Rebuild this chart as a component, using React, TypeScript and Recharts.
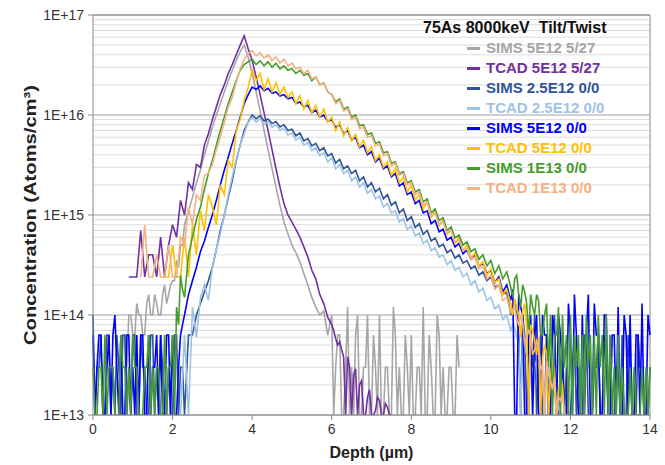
import React from 'react'
import { LineChart, Line, XAxis, YAxis, CartesianGrid, ReferenceLine } from 'recharts'

// depth grid (µm), 0.1 µm step
const depth = [
  0, 0.1, 0.2, 0.3, 0.4, 0.5, 0.6, 0.7, 0.8, 0.9,
  1, 1.1, 1.2, 1.3, 1.4, 1.5, 1.6, 1.7, 1.8, 1.9,
  2, 2.1, 2.2, 2.3, 2.4, 2.5, 2.6, 2.7, 2.8, 2.9,
  3, 3.1, 3.2, 3.3, 3.4, 3.5, 3.6, 3.7, 3.8, 3.9,
  4, 4.1, 4.2, 4.3, 4.4, 4.5, 4.6, 4.7, 4.8, 4.9,
  5, 5.1, 5.2, 5.3, 5.4, 5.5, 5.6, 5.7, 5.8, 5.9,
  6, 6.1, 6.2, 6.3, 6.4, 6.5, 6.6, 6.7, 6.8, 6.9,
  7, 7.1, 7.2, 7.3, 7.4, 7.5, 7.6, 7.7, 7.8, 7.9,
  8, 8.1, 8.2, 8.3, 8.4, 8.5, 8.6, 8.7, 8.8, 8.9,
  9, 9.1, 9.2, 9.3, 9.4, 9.5, 9.6, 9.7, 9.8, 9.9,
  10, 10.1, 10.2, 10.3, 10.4, 10.5, 10.6, 10.7, 10.8, 10.9,
  11, 11.1, 11.2, 11.3, 11.4, 11.5, 11.6, 11.7, 11.8, 11.9,
  12, 12.1, 12.2, 12.3, 12.4, 12.5, 12.6, 12.7, 12.8, 12.9,
  13, 13.1, 13.2, 13.3, 13.4, 13.5, 13.6, 13.7, 13.8, 13.9, 14,
]

// extra in-between depths where the SIMS noise floor is dense
const depthFine = [
  0.05, 0.15, 0.25, 0.35, 0.45, 0.55, 0.65, 0.75, 0.85, 0.95,
  1.05, 1.15, 1.25, 1.35, 1.45, 1.55, 1.65, 1.75, 1.85, 1.95,
  2.05, 2.15, 2.25,
  6.05, 6.15, 6.25, 6.35, 6.45, 6.55, 6.65, 6.75, 6.85, 6.95,
  7.05, 7.15, 7.25, 7.35, 7.45, 7.55, 7.65, 7.75, 7.85, 7.95,
  8.05, 8.15, 8.25, 8.35, 8.45, 8.55, 8.65, 8.75, 8.85, 8.95,
  9.05, 9.15,
  10.55, 10.65, 10.75, 10.85, 10.95,
  11.05, 11.15, 11.25, 11.35, 11.45, 11.55, 11.65, 11.75, 11.85, 11.95,
  12.05, 12.15, 12.25, 12.35, 12.45, 12.55, 12.65, 12.75, 12.85, 12.95,
  13.05, 13.15, 13.25, 13.35, 13.45, 13.55, 13.65, 13.75, 13.85, 13.95,
]

const N = null

// SIMS 5E12 5/27
const sims5e12Tilt = [
  N, N, N, N, N, N, N, N, 6.3e13, 1e14,
  6.3e13, 1.3e14, 1e14, 6.3e13, 1.6e14, 1e14, 1.3e14, 1e14, 2e14, 1.6e14,
  2.2e14, 3.5e14, 5e14, 8e14, 1.1e15, 1.5e15, 2.1e15, 2.8e15, 4e15, 5.5e15,
  7.5e15, 1e16, 1.3e16, 1.7e16, 2.2e16, 2.8e16, 3.5e16, 4.3e16, 5e16, 3.8e16,
  2.6e16, 1.7e16, 1.1e16, 7e15, 4.5e15, 2.9e15, 1.9e15, 1.25e15, 8.5e14, 6.5e14,
  5e14, 4.2e14, 3.4e14, 2.6e14, 2e14, 1.5e14, 1.2e14, 1e14, 1.1e14, 6.3e13,
  1e14, 3e13, 6.3e13, 1e13, 1.2e14, 3e13, 6.3e13, 1e13, 3e13, 1e14,
  1e13, 3e13, 1e14, 1e13, 3e13, 1e13, 6.3e13, 3e13, 1e13, 3e13,
  6.3e13, 1e13, 3e13, 1.2e14, 1e13, 3e13, 1e13, 6.3e13, 3e13, 1e13,
  3e13, 1e13, 3e13, N, N, N, N, N, N, N,
  N, N, N, N, N, N, N, N, N, N,
  N, N, N, N, N, N, N, N, N, N,
  N, N, N, N, N, N, N, N, N, N,
  N, N, N, N, N, N, N, N, N, N, N,
]
const sims5e12TiltFine = [
  N, N, N, N, N, N, N, N, 3e13, 1e14,
  6.3e13, 1e14, 6.3e13, 1.3e14, 1e14, 1.6e14, 1e14, 1.6e14, 1.3e14, 2e14,
  2.2e14, 3e14, 5e14,
  1e13, 6.3e13, 1e13, 3e13, 1e13, 1e13, 1e14, 1e13, 3e13, 1e13,
  6.3e13, 1e13, 1e13, 3e13, 1e13, 1.2e14, 1e13, 1e13, 6.3e13, 1e13,
  1e13, 3e13, 1e13, 1e13, 6.3e13, 1e13, 1e14, 1e13, 1e13, 3e13,
  1e13, 6.3e13,
  N, N, N, N, N,
  N, N, N, N, N, N, N, N, N, N,
  N, N, N, N, N, N, N, N, N, N,
  N, N, N, N, N, N, N, N, N, N,
]

// TCAD 5E12 5/27
const tcad5e12Tilt = [
  N, N, N, N, N, N, N, N, N, 2.4e14,
  2.4e14, 2.4e14, 7e14, 2.4e14, 4e14, 4e14, 2.4e14, 6e14, 2.4e14, 5e14,
  8e14, 6e14, 1.4e15, 1e15, 2.1e15, 1.8e15, 3.2e15, 3e15, 5e15, 6.5e15,
  9e15, 1.2e16, 1.6e16, 2e16, 2.6e16, 3.2e16, 4e16, 5e16, 6.2e16, 4.6e16,
  3.5e16, 2.4e16, 1.6e16, 1.05e16, 7e15, 4.5e15, 2.9e15, 1.9e15, 1.3e15, 1e15,
  8.5e14, 7.2e14, 6e14, 4.8e14, 3.8e14, 2.8e14, 2.3e14, 1.6e14, 1.3e14, 9.5e13,
  8e13, 5.8e13, 5.4e13, 3.8e13, 3.8e13, 1e13, 2.9e13, 2e13, 1e13, 1.5e13,
  1e13, 1.1e13, 1.4e13, 1e13, 1.2e13, 1e13, N, N, N, N,
  N, N, N, N, N, N, N, N, N, N,
  N, N, N, N, N, N, N, N, N, N,
  N, N, N, N, N, N, N, N, N, N,
  N, N, N, N, N, N, N, N, N, N,
  N, N, N, N, N, N, N, N, N, N,
  N, N, N, N, N, N, N, N, N, N, N,
]
const tcad5e12TiltFine = [
  N, N, N, N, N, N, N, N, N, N,
  N, N, N, N, N, N, N, N, N, N,
  N, N, N,
  7e13, 5e13, 4.5e13, 1e13, 3e13, 2.5e13, 1e13, 2.2e13, 1e13, 1.8e13,
  1e13, 1.5e13, 1e13, 1.3e13, 1e13, N, N, N, N, N,
  N, N, N, N, N, N, N, N, N, N,
  N, N,
  N, N, N, N, N,
  N, N, N, N, N, N, N, N, N, N,
  N, N, N, N, N, N, N, N, N, N,
  N, N, N, N, N, N, N, N, N, N,
]

// SIMS 2.5E12 0/0
const sims25e12 = [
  1e14, 3e13, 6.3e13, 1e13, 6.3e13, 3e13, 6.3e13, 1e13, 6.3e13, 3e13,
  6.3e13, 1e13, 6.3e13, 3e13, 1e13, 6.3e13, 3e13, 6.3e13, 1e13, 3e13,
  1e13, 6.3e13, 3e13, 1e13, 6.3e13, 6.3e13, 1e14, 1.3e14, 1.7e14, 2.2e14,
  3e14, 4.5e14, 7e14, 1e15, 1.5e15, 2.2e15, 3.5e15, 5e15, 7e15, 8.5e15,
  1e16, 9.2e15, 9.8e15, 8.7e15, 9.1e15, 8.2e15, 8.6e15, 7.6e15, 8e15, 7e15,
  7.2e15, 6.2e15, 6.6e15, 5.5e15, 5.8e15, 4.9e15, 5.2e15, 4.4e15, 4.7e15, 3.9e15,
  4.1e15, 3.3e15, 3.6e15, 2.9e15, 3.1e15, 2.6e15, 2.8e15, 2.2e15, 2.4e15, 1.9e15,
  2.1e15, 1.7e15, 1.85e15, 1.45e15, 1.6e15, 1.25e15, 1.35e15, 1.05e15, 1.15e15, 8.8e14,
  9.6e14, 7.5e14, 8.2e14, 6.4e14, 7e14, 5.5e14, 5.9e14, 4.8e14, 5.1e14, 4.2e14,
  4.5e14, 3.7e14, 4e14, 3.3e14, 3.5e14, 2.9e14, 3.1e14, 2.5e14, 2.7e14, 2.2e14,
  2.4e14, 1.9e14, 2e14, 1.6e14, 1.7e14, 1e14, 1.4e14, 6.3e13, 1e14, 1e13,
  6.3e13, 1e14, 3e13, 1e13, 6.3e13, 3e13, 1e14, 1e13, 6.3e13, 3e13,
  1e13, 6.3e13, 3e13, 1e13, 6.3e13, 1e13, 3e13, 6.3e13, 1e13, 3e13,
  6.3e13, 1e13, 3e13, 6.3e13, 1e13, 3e13, 1e13, 6.3e13, 3e13, 1e13, 3e13,
]
const sims25e12Fine = [
  1e13, 3e13, 1e13, 6.3e13, 1e13, 1e13, 3e13, 6.3e13, 1e13, 1e13,
  6.3e13, 1e13, 3e13, 1e13, 6.3e13, 1e13, 1e13, 3e13, 1e13, 1e13,
  6.3e13, 1e13, 3e13,
  N, N, N, N, N, N, N, N, N, N,
  N, N, N, N, N, N, N, N, N, N,
  N, N, N, N, N, N, N, N, N, N,
  N, N,
  1.2e14, 1e14, 1e13, 6.3e13, 1e13,
  3e13, 1e13, 6.3e13, 1e13, 1e13, 6.3e13, 1e13, 3e13, 1e13, 1e13,
  3e13, 1e13, 1e13, 6.3e13, 1e13, 1e13, 3e13, 1e13, 6.3e13, 1e13,
  1e13, 3e13, 1e13, 1e13, 6.3e13, 1e13, 1e13, 3e13, 1e13, 1e13,
]

// TCAD 2.5E12 0/0
const tcad25e12 = [
  N, N, N, N, N, N, N, N, N, N,
  N, N, N, N, N, N, N, N, N, N,
  N, N, 1e13, 6.3e13, 1e13, 1.2e14, 6e13, 1.5e14, 2e14, 1.4e14,
  3e14, 4.5e14, 6.5e14, 1e15, 1.6e15, 2.4e15, 3.6e15, 5e15, 6.5e15, 8.5e15,
  9.5e15, 8.5e15, 9.2e15, 8e15, 8.6e15, 7.5e15, 8e15, 7e15, 7.4e15, 6.3e15,
  6.6e15, 5.6e15, 6e15, 5e15, 5.3e15, 4.4e15, 4.7e15, 3.9e15, 4.2e15, 3.4e15,
  3.7e15, 2.9e15, 3.2e15, 2.6e15, 2.8e15, 2.2e15, 2.4e15, 1.9e15, 2.1e15, 1.65e15,
  1.8e15, 1.45e15, 1.55e15, 1.2e15, 1.3e15, 1.05e15, 1.1e15, 8.5e14, 9.2e14, 7.2e14,
  7.8e14, 6.2e14, 6.6e14, 5.2e14, 5.6e14, 4.4e14, 4.7e14, 3.8e14, 4e14, 3.2e14,
  3.5e14, 2.8e14, 3e14, 2.4e14, 2.6e14, 2e14, 2.2e14, 1.7e14, 1.85e14, 1.4e14,
  1.5e14, 1.15e14, 1.25e14, 9e13, 1e14, 7e13, 7.5e13, 5.3e13, 5.8e13, 4e13,
  4.3e13, 3e13, 3.2e13, 2.2e13, 2.4e13, 1.6e13, 1.7e13, 1.2e13, 1e13, N,
  N, N, N, N, N, N, N, N, N, N,
  N, N, N, N, N, N, N, N, N, N, N,
]
const tcad25e12Fine = [
  N, N, N, N, N, N, N, N, N, N,
  N, N, N, N, N, N, N, N, N, N,
  N, N, N,
  N, N, N, N, N, N, N, N, N, N,
  N, N, N, N, N, N, N, N, N, N,
  N, N, N, N, N, N, N, N, N, N,
  N, N,
  8e13, 6e13, 1e13, 5e13, 3.5e13,
  1e13, 3.5e13, 2.5e13, 1e13, 2e13, 1.5e13, 1e13, 1.1e13, N, N,
  N, N, N, N, N, N, N, N, N, N,
  N, N, N, N, N, N, N, N, N, N,
]

// SIMS 5E12 0/0
const sims5e12 = [
  6.3e13, 3e13, 6.3e13, 1e13, 6.3e13, 6.3e13, 3e13, 6.3e13, 1e13, 6.3e13,
  3e13, 6.3e13, 6.3e13, 1e13, 6.3e13, 3e13, 6.3e13, 6.3e13, 1e13, 6.3e13,
  6.3e13, 1e13, 6.3e13, 1e14, 1.6e14, 2.2e14, 3e14, 4.3e14, 5.5e14, 7.5e14,
  1e15, 1.4e15, 2e15, 2.8e15, 3.8e15, 5.2e15, 7e15, 9.5e15, 1.3e16, 1.6e16,
  1.9e16, 1.8e16, 1.95e16, 1.75e16, 1.85e16, 1.65e16, 1.7e16, 1.55e16, 1.6e16, 1.45e16,
  1.5e16, 1.3e16, 1.35e16, 1.2e16, 1.25e16, 1.05e16, 1.12e16, 9.5e15, 1e16, 8.6e15,
  9e15, 7.5e15, 8e15, 6.5e15, 7e15, 5.6e15, 6e15, 4.7e15, 5e15, 4e15,
  4.3e15, 3.4e15, 3.7e15, 2.9e15, 3.1e15, 2.4e15, 2.6e15, 1.95e15, 2.1e15, 1.6e15,
  1.7e15, 1.3e15, 1.4e15, 1.05e15, 1.1e15, 8.2e14, 8.8e14, 6.8e14, 7.2e14, 5.6e14,
  6e14, 4.8e14, 5.2e14, 4.1e14, 4.5e14, 3.6e14, 3.9e14, 3.1e14, 3.3e14, 2.6e14,
  2.8e14, 2.1e14, 2.4e14, 1.7e14, 2e14, 1.4e14, 1e13, 1.6e14, 1e14, 1e13,
  1e14, 6.3e13, 1e13, 1e14, 6.3e13, 1e13, 6.3e13, 1e14, 3e13, 1e13,
  6.3e13, 1.6e14, 1e13, 1e14, 6.3e13, 1e13, 1.3e14, 6.3e13, 1e13, 1e14,
  1e13, 6.3e13, 1.2e14, 1e13, 6.3e13, 1e14, 1e13, 6.3e13, 1.3e14, 1e13, 6.3e13,
]
const sims5e12Fine = [
  1e13, 6.3e13, 1e13, 3e13, 1e13, 1e14, 1e13, 1e13, 6.3e13, 1e13,
  1e13, 1e13, 6.3e13, 1e13, 1e13, 3e13, 1e13, 1e13, 6.3e13, 1e13,
  1e13, 3e13, 8e13,
  N, N, N, N, N, N, N, N, N, N,
  N, N, N, N, N, N, N, N, N, N,
  N, N, N, N, N, N, N, N, N, N,
  N, N,
  1.8e14, 1e13, 1.2e14, 1e13, 6.3e13,
  1e13, 1e14, 1e13, 6.3e13, 1e13, 1e14, 1e13, 6.3e13, 1e13, 1.3e14,
  1e13, 6.3e13, 1e13, 1e13, 1.6e14, 1e13, 6.3e13, 1e13, 1e14, 1e13,
  6.3e13, 1e13, 1e13, 1e14, 1e13, 1e13, 6.3e13, 1e13, 1e13, 1e14,
]

// TCAD 5E12 0/0
const tcad5e12 = [
  N, N, N, N, N, N, N, N, N, N,
  N, N, N, N, N, N, N, N, 2.4e14, 2.4e14,
  5e14, 2.4e14, 2.4e14, 6e14, 2.4e14, 8e14, 4e14, 1.1e15, 7e14, 1.6e15,
  1.2e15, 8e14, 2e15, 1.6e15, 3.5e15, 3e15, 7e15, 9e15, 1.4e16, 1.9e16,
  2.8e16, 2.2e16, 2.6e16, 1.8e16, 2.3e16, 1.7e16, 2.1e16, 1.6e16, 1.9e16, 1.5e16,
  1.7e16, 1.3e16, 1.55e16, 1.15e16, 1.4e16, 1.05e16, 1.25e16, 9.5e15, 1.15e16, 8.5e15,
  9.5e15, 7e15, 8.5e15, 6.2e15, 7.5e15, 5.5e15, 6.4e15, 4.8e15, 5.6e15, 4.2e15,
  4.8e15, 3.5e15, 4e15, 3e15, 3.4e15, 2.5e15, 2.9e15, 2.1e15, 2.4e15, 1.7e15,
  2e15, 1.4e15, 1.6e15, 1.15e15, 1.35e15, 9.5e14, 1.1e15, 7.8e14, 9e14, 6.4e14,
  7.2e14, 5.2e14, 6e14, 4.4e14, 5e14, 3.7e14, 4.2e14, 3.1e14, 3.4e14, 2.5e14,
  2.9e14, 2.1e14, 2.3e14, 1.6e14, 1.8e14, 1.3e14, 1.45e14, 1e14, 1.1e14, 7.5e13,
  8e13, 5.5e13, 6e13, 3.8e13, 4.2e13, 2.6e13, 2.9e13, 1.7e13, 2e13, 1e13,
  N, N, N, N, N, N, N, N, N, N,
  N, N, N, N, N, N, N, N, N, N, N,
]
const tcad5e12Fine = [
  N, N, N, N, N, N, N, N, N, N,
  N, N, N, N, N, N, N, N, N, N,
  N, N, N,
  N, N, N, N, N, N, N, N, N, N,
  N, N, N, N, N, N, N, N, N, N,
  N, N, N, N, N, N, N, N, N, N,
  N, N,
  1e14, 1.2e14, 6e13, 1.3e14, 1e13,
  7e13, 4e13, 1e13, 5e13, 1e13, 3.5e13, 1e13, 2.5e13, 1e13, N,
  N, N, N, N, N, N, N, N, N, N,
  N, N, N, N, N, N, N, N, N, N,
]

// SIMS 1E13 0/0
const sims1e13 = [
  3e13, 1e13, 3e13, 6.3e13, 3e13, 3e13, 1e13, 6.3e13, 3e13, 3e13,
  6.3e13, 3e13, 1e13, 3e13, 6.3e13, 3e13, 3e13, 1e13, 6.3e13, 3e13,
  6.3e13, 1.2e14, 2.5e14, 1.5e14, 4e14, 6e14, 9e14, 1.2e15, 1.8e15, 2.6e15,
  3.5e15, 5e15, 7e15, 9.5e15, 1.3e16, 1.7e16, 2.2e16, 2.8e16, 3.2e16, 3.4e16,
  3.6e16, 3.2e16, 3.5e16, 3.1e16, 3.4e16, 3e16, 3.3e16, 2.9e16, 3.1e16, 2.8e16,
  2.9e16, 2.6e16, 2.8e16, 2.5e16, 2.6e16, 2.2e16, 2.4e16, 2e16, 2.1e16, 1.7e16,
  1.6e16, 1.35e16, 1.45e16, 1.15e16, 1.2e16, 9.5e15, 1e16, 7.8e15, 8e15, 6.4e15,
  6.6e15, 5.2e15, 5.4e15, 4.2e15, 4.3e15, 3.3e15, 3.4e15, 2.6e15, 2.7e15, 2.1e15,
  2.2e15, 1.7e15, 1.8e15, 1.35e15, 1.45e15, 1.05e15, 1.15e15, 8.8e14, 9.4e14, 7e14,
  7.6e14, 5.9e14, 6.3e14, 5e14, 5.4e14, 4.3e14, 4.6e14, 3.6e14, 4e14, 3.1e14,
  3.5e14, 2.6e14, 3.1e14, 2.3e14, 2.7e14, 1.9e14, 2.3e14, 1.6e14, 2e14, 1.3e14,
  1.6e14, 1e14, 1.4e14, 6.3e13, 1.3e14, 1e14, 6.3e13, 1.2e14, 1e14, 6.3e13,
  1e14, 6.3e13, 6.3e13, 6.3e13, 1e14, 6.3e13, 6.3e13, 1e14, 6.3e13, 1e14,
  6.3e13, 3e13, 6.3e13, 3e13, 1e13, 3e13, 3e13, 1e13, 3e13, 3e13, 3e13,
]
const sims1e13Fine = [
  1e13, 3e13, 1e13, 1e13, 3e13, 1e13, 1e13, 3e13, 1e13, 1e13,
  3e13, 1e13, 1e13, 3e13, 1e13, 1e13, 3e13, 1e13, 1e13, 3e13,
  1e13, 8e13, 1.8e14,
  N, N, N, N, N, N, N, N, N, N,
  N, N, N, N, N, N, N, N, N, N,
  N, N, N, N, N, N, N, N, N, N,
  N, N,
  1.5e14, 2.5e14, 1.2e14, 1.7e14, 6.3e13,
  1.2e14, 1.6e14, 6.3e13, 1e14, 3e13, 1e13, 6.3e13, 1e13, 3e13, 1e13,
  1e13, 3e13, 1e13, 1e13, 3e13, 1e13, 1e13, 3e13, 1e13, 1e13,
  1e13, 1e13, 1e13, 1e13, 1e13, 1e13, 1e13, 1e13, 1e13, 1e13,
]

// TCAD 1E13 0/0
const tcad1e13 = [
  N, N, N, N, N, N, N, N, N, N,
  N, N, 2.4e14, 8e14, 2.4e14, 2.4e14, 4e14, 2.4e14, 2.4e14, 5e14,
  2.4e14, 2.4e14, 6e14, 5e14, 1.2e15, 8e14, 1.6e15, 1.4e15, 2.5e15, 2.6e15,
  3.2e15, 4.5e15, 6e15, 8.5e15, 1.2e16, 1.5e16, 2.1e16, 2.9e16, 3.6e16, 4.1e16,
  4.4e16, 3.9e16, 4.2e16, 3.7e16, 4e16, 3.5e16, 3.8e16, 3.3e16, 3.6e16, 3.1e16,
  3.3e16, 2.9e16, 3e16, 2.6e16, 2.8e16, 2.3e16, 2.4e16, 2e16, 2.1e16, 1.7e16,
  1.6e16, 1.3e16, 1.4e16, 1.1e16, 1.15e16, 9e15, 9.5e15, 7.3e15, 7.6e15, 6e15,
  6.2e15, 4.9e15, 5.1e15, 3.9e15, 4.1e15, 3.1e15, 3.3e15, 2.5e15, 2.6e15, 2e15,
  2.1e15, 1.6e15, 1.7e15, 1.25e15, 1.35e15, 1e15, 1.05e15, 8e14, 8.6e14, 6.5e14,
  7e14, 5.3e14, 5.6e14, 4.4e14, 4.6e14, 3.6e14, 3.8e14, 2.9e14, 3.1e14, 2.3e14,
  2.5e14, 1.8e14, 2e14, 1.4e14, 1.5e14, 1.05e14, 1.2e14, 8e13, 8.5e13, 6e13,
  6.5e13, 4.5e13, 4.8e13, 3.2e13, 3.5e13, 2.2e13, 2.4e13, 1.5e13, 1.6e13, 1e13,
  N, N, N, N, N, N, N, N, N, N,
  N, N, N, N, N, N, N, N, N, N, N,
]
const tcad1e13Fine = [
  N, N, N, N, N, N, N, N, N, N,
  N, N, N, N, N, N, N, N, N, N,
  N, N, N,
  N, N, N, N, N, N, N, N, N, N,
  N, N, N, N, N, N, N, N, N, N,
  N, N, N, N, N, N, N, N, N, N,
  N, N,
  1.1e14, 9e13, 1e14, 5e13, 7e13,
  4e13, 5.5e13, 2.8e13, 1e13, 2.6e13, 1.8e13, 1e13, 1.4e13, 1e13, N,
  N, N, N, N, N, N, N, N, N, N,
  N, N, N, N, N, N, N, N, N, N,
]

const xTicks = [0, 2, 4, 6, 8, 10, 12, 14]
const yTicks = [1e13, 1e14, 1e15, 1e16, 1e17]
const yTickLabels = ['1E+13', '1E+14', '1E+15', '1E+16', '1E+17']
const minorMultipliers = [2, 3, 4, 5, 6, 7, 8, 9]
const minorGrid = yTicks.slice(0, -1).flatMap((d) => minorMultipliers.map((m) => d * m))

const series = [
  { key: 'a', name: 'SIMS 5E12 5/27', color: '#a6a6a6', values: sims5e12Tilt, fine: sims5e12TiltFine },
  { key: 'b', name: 'TCAD 5E12 5/27', color: '#7030a0', values: tcad5e12Tilt, fine: tcad5e12TiltFine },
  { key: 'c', name: 'SIMS 2.5E12 0/0', color: '#2f5597', values: sims25e12, fine: sims25e12Fine },
  { key: 'd', name: 'TCAD 2.5E12 0/0', color: '#9dc3e6', values: tcad25e12, fine: tcad25e12Fine },
  { key: 'e', name: 'SIMS 5E12 0/0', color: '#0000ff', values: sims5e12, fine: sims5e12Fine },
  { key: 'f', name: 'TCAD 5E12 0/0', color: '#ffc000', values: tcad5e12, fine: tcad5e12Fine },
  { key: 'g', name: 'SIMS 1E13 0/0', color: '#459c2e', values: sims1e13, fine: sims1e13Fine },
  { key: 'h', name: 'TCAD 1E13 0/0', color: '#f4b183', values: tcad1e13, fine: tcad1e13Fine },
]

const coarseRows = depth.map((x, i) => {
  const r: Record<string, number | null> = { x }
  series.forEach((s) => { r[s.key] = s.values[i] })
  return r
})
const fineRows = depthFine.map((x, i) => {
  const r: Record<string, number | null> = { x }
  series.forEach((s) => { r[s.key] = s.fine[i] })
  return r
})
const rows = [...coarseRows, ...fineRows].sort((p, q) => (p.x as number) - (q.x as number))

const font = '"Liberation Sans", Arial, sans-serif'

function LegendBox() {
  return (
    <div style={{ position: 'absolute', left: 423, top: 18, fontFamily: font, fontWeight: 'bold', fontSize: 15, lineHeight: '20px' }}>
      <div style={{ color: '#111', fontSize: 16, whiteSpace: 'nowrap' }}>75As 8000keV&nbsp;&nbsp;Tilt/Twist</div>
      {series.map((s) => (
        <div key={s.key} style={{ display: 'flex', alignItems: 'center', paddingLeft: 44, whiteSpace: 'nowrap' }}>
          <span style={{ width: 13, height: 3, background: s.color, marginRight: 6 }} />
          <span style={{ color: s.color }}>{s.name}</span>
        </div>
      ))}
    </div>
  )
}

export default function App() {
  return (
    <div style={{ position: 'absolute', left: 0, top: 0, width: 665, height: 465, background: '#fff' }}>
      <LineChart width={665} height={465} data={rows} margin={{ top: 15, right: 15, bottom: 0, left: 0 }}>
        <CartesianGrid vertical={false} horizontalValues={minorGrid} stroke="#dcdcdc" strokeWidth={1} />
        <CartesianGrid vertical={false} horizontalValues={yTicks} stroke="#a0a0a0" strokeWidth={1} />
        <XAxis
          dataKey="x"
          type="number"
          domain={[0, 14]}
          ticks={xTicks}
          height={50}
          tickSize={5}
          tickMargin={4}
          stroke="#888"
          tick={{ fontSize: 14, fill: '#333', fontFamily: font }}
          label={{ value: 'Depth (µm)', position: 'insideBottom', offset: 7, style: { fontSize: 16, fontWeight: 'bold', fill: '#222', fontFamily: font } }}
        />
        <YAxis
          type="number"
          scale="log"
          domain={[1e13, 1e17]}
          allowDataOverflow
          ticks={yTicks}
          width={93}
          tickSize={5}
          tickMargin={4}
          stroke="#888"
          tickFormatter={(v: number) => yTickLabels[yTicks.indexOf(v)] ?? ''}
          tick={{ fontSize: 14, fill: '#333', fontFamily: font }}
        />
        <ReferenceLine x={14} stroke="#888" />
        <ReferenceLine y={1e17} stroke="#888" />
        {series.map((s) => (
          <Line
            key={s.key}
            dataKey={s.key}
            name={s.name}
            type="linear"
            stroke={s.color}
            strokeWidth={1.6}
            dot={false}
            activeDot={false}
            connectNulls
            isAnimationActive={false}
          />
        ))}
      </LineChart>
      <LegendBox />
      <svg width={665} height={465} style={{ position: 'absolute', left: 0, top: 0, pointerEvents: 'none' }}>
        <text
          x={30}
          y={215}
          transform="rotate(-90 30 215)"
          textAnchor="middle"
          dominantBaseline="central"
          fontFamily={font}
          fontWeight="bold"
          fontSize={17}
          fill="#222"
          textLength={260}
          lengthAdjust="spacingAndGlyphs"
        >
          Concentration (Atoms/cm³)
        </text>
      </svg>
    </div>
  )
}
